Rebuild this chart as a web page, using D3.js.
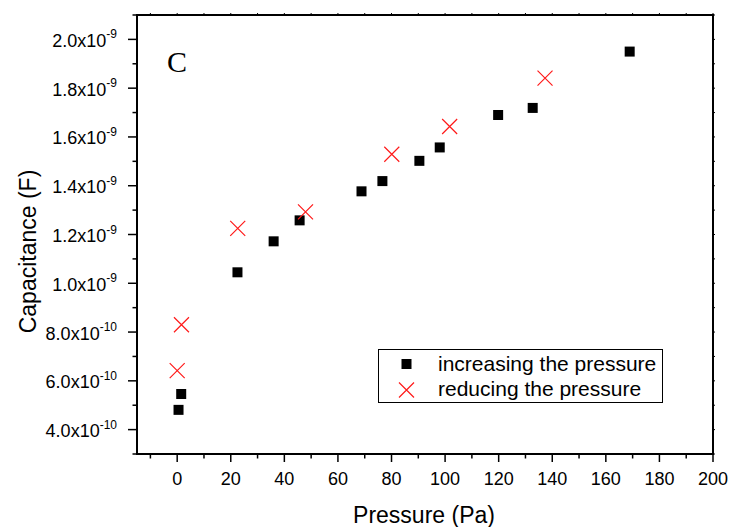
<!DOCTYPE html>
<html>
<head>
<meta charset="utf-8">
<script src="https://cdn.jsdelivr.net/npm/d3@7"></script>
<style>
  html, body { margin: 0; padding: 0; background: #fff; }
  svg { display: block; font-family: "Liberation Sans", Arial, sans-serif; }
</style>
</head>
<body>
<svg id="chart" width="732" height="527"></svg>
<script>
// data
const incPressure = [0.5, 1.5, 22.5, 36, 45.7, 68.8, 76.6, 90.4, 98, 119.8, 132.7, 168.9];
const incCap = [4.81e-10, 5.46e-10, 1.045e-9, 1.172e-9, 1.258e-9, 1.377e-9, 1.419e-9, 1.502e-9, 1.557e-9, 1.69e-9, 1.719e-9, 1.95e-9];
const redPressure = [0, 1.6, 22.6, 47.9, 80.1, 101.7, 137.3];
const redCap = [6.42e-10, 8.3e-10, 1.225e-9, 1.293e-9, 1.529e-9, 1.643e-9, 1.841e-9];

const xMajor = [0, 20, 40, 60, 80, 100, 120, 140, 160, 180, 200];
const xMinor = [-10, 10, 30, 50, 70, 90, 110, 130, 150, 170, 190];
const yMajor = [4e-10, 6e-10, 8e-10, 1.0e-9, 1.2e-9, 1.4e-9, 1.6e-9, 1.8e-9, 2.0e-9];
const yMinor = [3e-10, 5e-10, 7e-10, 9e-10, 1.1e-9, 1.3e-9, 1.5e-9, 1.7e-9, 1.9e-9, 2.1e-9];

const legendLabels = ['increasing the pressure', 'reducing the pressure'];

const L = 137, T = 15, R = 713, B = 454;
const svg = d3.select('#chart');

const x = d3.scaleLinear().domain([-15, 200]).range([L, R]);
const y = d3.scaleLinear().domain([3e-10, 2.1e-9]).range([B, T]);

// tick label: mantissa x10 with superscript exponent
function sciParts(v) {
  const e = Math.floor(Math.log10(v) + 1e-9);
  const m = v / Math.pow(10, e);
  return { m: m.toFixed(1), e: e };
}

// bottom axis
const xAx = svg.append('g').attr('transform', `translate(0,${B})`);
xAx.selectAll('line.maj').data(xMajor).join('line')
  .attr('x1', d => x(d)).attr('x2', d => x(d)).attr('y1', 0).attr('y2', 8)
  .attr('stroke', '#000').attr('stroke-width', 1.5);
xAx.selectAll('line.min').data(xMinor).join('line').attr('class', 'min')
  .attr('x1', d => x(d)).attr('x2', d => x(d)).attr('y1', 0).attr('y2', 4.5)
  .attr('stroke', '#000').attr('stroke-width', 1.5);
xAx.selectAll('text').data(xMajor).join('text')
  .attr('x', d => x(d)).attr('y', 31)
  .attr('text-anchor', 'middle').attr('font-size', 18).text(d => d);

// left axis
const yAx = svg.append('g').attr('transform', `translate(${L},0)`);
yAx.selectAll('line.maj').data(yMajor).join('line').attr('class', 'maj')
  .attr('y1', d => y(d)).attr('y2', d => y(d)).attr('x1', 0).attr('x2', -9)
  .attr('stroke', '#000').attr('stroke-width', 1.5);
yAx.selectAll('line.min').data(yMinor).join('line').attr('class', 'min')
  .attr('y1', d => y(d)).attr('y2', d => y(d)).attr('x1', 0).attr('x2', -4.5)
  .attr('stroke', '#000').attr('stroke-width', 1.5);
const yl = yAx.selectAll('text').data(yMajor).join('text')
  .attr('x', -20).attr('y', d => y(d) + 7.5)
  .attr('text-anchor', 'end').attr('font-size', 18);
yl.append('tspan').text(d => sciParts(d).m + 'x10');
yl.append('tspan').attr('font-size', 12).attr('dy', -8.5).text(d => sciParts(d).e);

// top and right tiny ticks
svg.append('g').selectAll('line').data(xMajor.concat(xMinor)).join('line')
  .attr('x1', d => x(d)).attr('x2', d => x(d)).attr('y1', T).attr('y2', T - 2)
  .attr('stroke', '#000').attr('stroke-width', 1);
svg.append('g').selectAll('line').data(yMajor.concat(yMinor)).join('line')
  .attr('y1', d => y(d)).attr('y2', d => y(d)).attr('x1', R).attr('x2', R + 2)
  .attr('stroke', '#000').attr('stroke-width', 1);

// frame
svg.append('rect').attr('x', L).attr('y', T).attr('width', R - L).attr('height', B - T)
  .attr('fill', 'none').attr('stroke', '#000').attr('stroke-width', 2);

// axis titles
svg.append('text').attr('x', (L + R) / 2 - 1).attr('y', 523)
  .attr('text-anchor', 'middle').attr('font-size', 23).text('Pressure (Pa)');
svg.append('text').attr('transform', `translate(35.5,${(T + B) / 2 + 17}) rotate(-90)`)
  .attr('text-anchor', 'middle').attr('font-size', 23).text('Capacitance (F)');

// panel letter
svg.append('text').attr('x', 167).attr('y', 72)
  .attr('font-family', '"Liberation Serif", "Times New Roman", serif')
  .attr('font-size', 30).text('C');

const sq = 10, cr = 7.5;
function drawCross(g, cx, cy) {
  g.append('path')
    .attr('d', `M${cx - cr},${cy - cr}L${cx + cr},${cy + cr}M${cx - cr},${cy + cr}L${cx + cr},${cy - cr}`)
    .attr('stroke', '#ff1a1a').attr('stroke-width', 1.2).attr('fill', 'none');
}

// series
svg.append('g').selectAll('rect').data(d3.range(incPressure.length)).join('rect')
  .attr('x', i => x(incPressure[i]) - sq / 2).attr('y', i => y(incCap[i]) - sq / 2)
  .attr('width', sq).attr('height', sq).attr('fill', '#000');
const redG = svg.append('g');
redPressure.forEach((p, i) => drawCross(redG, x(p), y(redCap[i])));

// legend
const lg = svg.append('g');
lg.append('rect').attr('x', 378.5).attr('y', 349.5).attr('width', 284).attr('height', 53)
  .attr('fill', '#fff').attr('stroke', '#000').attr('stroke-width', 1);
lg.append('rect').attr('x', 406.5 - sq / 2).attr('y', 364 - sq / 2).attr('width', sq).attr('height', sq).attr('fill', '#000');
drawCross(lg, 406.5, 390);
lg.selectAll('text').data(legendLabels).join('text')
  .attr('x', 438).attr('y', (d, i) => 371 + i * 25)
  .attr('font-size', 21).text(d => d);
</script>
</body>
</html>
